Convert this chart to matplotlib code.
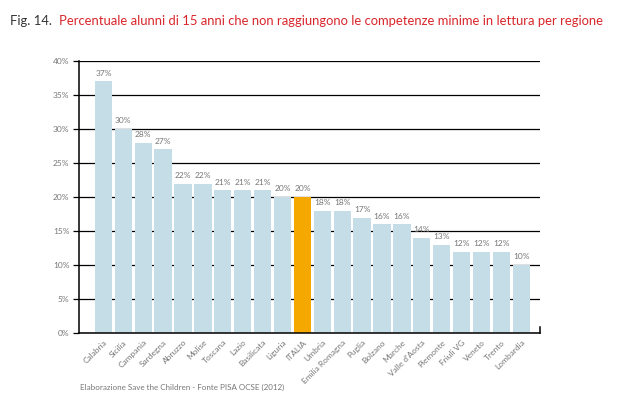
import matplotlib.pyplot as plt
from matplotlib.ticker import FuncFormatter

regioni = ['Calabria', 'Sicilia', 'Campania', 'Sardegna', 'Abruzzo', 'Molise',
           'Toscana', 'Lazio', 'Basilicata', 'Liguria', 'ITALIA', 'Umbria',
           'Emilia Romagna', 'Puglia', 'Bolzano', 'Marche', "Valle d'Aosta",
           'Piemonte', 'Friuli VG', 'Veneto', 'Trento', 'Lombardia']
valori = [37, 30, 28, 27, 22, 22, 21, 21, 21, 20, 20, 18, 18, 17, 16, 16, 14,
          13, 12, 12, 12, 10]
y_ticks = [0, 5, 10, 15, 20, 25, 30, 35, 40]

plt.rcParams['font.family'] = ['Lato', 'DejaVu Sans']
grigio = '#777777'
colori = ['#f5a800' if r == 'ITALIA' else '#c5dde6' for r in regioni]

fig = plt.figure(figsize=(6.32, 3.99), dpi=100)
ax = fig.add_axes([0.125, 0.165, 0.729, 0.682])

x = list(range(len(regioni)))
ax.bar(x, valori, width=0.87, color=colori, zorder=2)
for xi, v in zip(x, valori):
    ax.text(xi, v + 0.7, f'{v}%', ha='center', va='bottom', fontsize=6,
            color=grigio)

ax.set_xlim(-1.23, 21.93)
ax.set_ylim(0, 40)
ax.set_yticks(y_ticks)
ax.yaxis.set_major_formatter(FuncFormatter(lambda v, p: f'{v:.0f}%'))
ax.grid(axis='y', color='black', linewidth=0.9, zorder=1)
ax.set_axisbelow(True)
ax.tick_params(axis='y', length=4, width=0.9, labelsize=6, labelcolor=grigio,
               pad=3)
ax.set_xticks(x)
ax.set_xticklabels(regioni, rotation=45, ha='right', rotation_mode='anchor',
                   fontsize=6, color=grigio)
ax.tick_params(axis='x', length=0, pad=4)

for s in ['top', 'right']:
    ax.spines[s].set_visible(False)
for s in ['left', 'bottom']:
    ax.spines[s].set_linewidth(1.1)
    ax.spines[s].set_zorder(3)
ax.plot([21.93, 21.93], [0, 0.9], color='black', linewidth=1.1, clip_on=False)

fig.text(0.016, 0.947, 'Fig. 14.', fontsize=9.4, color='#333333', va='center')
fig.text(0.094, 0.947, 'Percentuale alunni di 15 anni che non raggiungono le '
         'competenze minime in lettura per regione', fontsize=9.4,
         color='#d9262b', va='center')
fig.text(0.127, 0.028, 'Elaborazione Save the Children - Fonte PISA OCSE (2012)',
         fontsize=5.8, color=grigio, va='center')

fig.savefig('out.png', dpi=100)
